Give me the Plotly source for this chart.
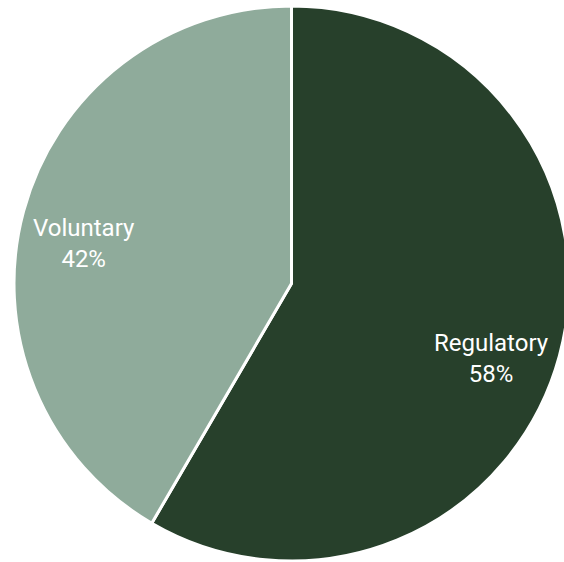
import math
import plotly.graph_objects as go

categories = ["Regulatory", "Voluntary"]
shares = [58.4, 41.6]
colors = ["#27402b", "#8fab9b"]

# label placement: fraction of radius along each slice's bisector, plus a vertical nudge (px)
label_radius = [0.745, 0.774]
label_yshift = [-21, -16]

fig = go.Figure(
    go.Pie(
        labels=categories,
        values=shares,
        sort=False,
        direction="clockwise",
        rotation=0,
        marker=dict(colors=colors, line=dict(color="white", width=3)),
        textinfo="none",
        hoverinfo="label+percent",
        domain=dict(x=[0, 1], y=[0, 1]),
    )
)

# put each label on its slice, derived from the cumulative shares
total = sum(shares)
start = 0.0
for name, val, f, ys in zip(categories, shares, label_radius, label_yshift):
    frac = val / total
    mid = (start + frac / 2) * 2 * math.pi  # clockwise from 12 o'clock
    start += frac
    fig.add_annotation(
        x=0.5 + 0.5 * f * math.sin(mid),
        y=0.5 + 0.5 * f * math.cos(mid),
        xref="paper",
        yref="paper",
        text=f"{name}<br>{frac * 100:.0f}%",
        showarrow=False,
        yshift=ys,
        xanchor="center",
        yanchor="middle",
        font=dict(family="Roboto", size=24, color="white"),
    )

fig.update_layout(
    width=569,
    height=562,
    margin=dict(l=14, r=0, t=6, b=1),
    showlegend=False,
    paper_bgcolor="white",
    plot_bgcolor="white",
)

fig.write_html(
    "out.html",
    post_script="document.body.style.margin='0';document.body.style.overflow='hidden';",
)
